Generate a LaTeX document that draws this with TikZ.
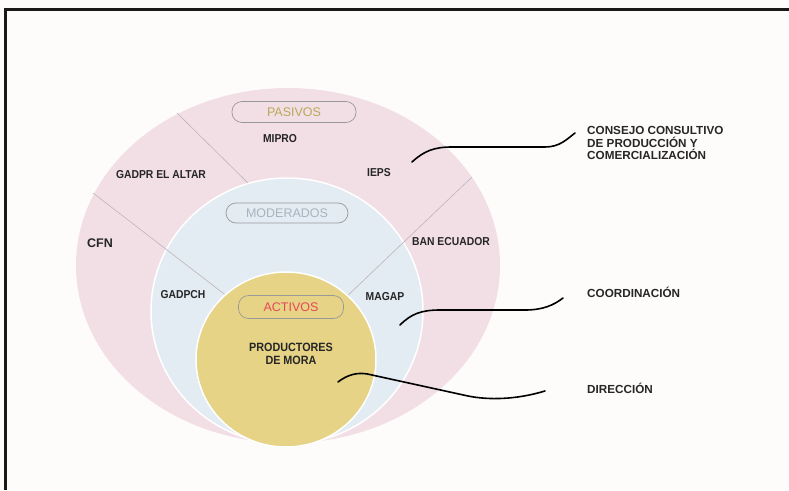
\documentclass[tikz,border=0pt]{standalone}
\usepackage{fontspec}
\setmainfont{Liberation Sans}
\newfontfamily\narrowfont[FakeStretch=0.9]{Liberation Sans}
\usetikzlibrary{positioning}
\definecolor{pasivofill}{RGB}{242,223,230}
\definecolor{moderadofill}{RGB}{227,235,243}
\definecolor{activofill}{RGB}{230,211,133}
\definecolor{pasivotext}{RGB}{185,168,88}
\definecolor{moderadotext}{RGB}{170,178,190}
\definecolor{activotext}{RGB}{232,70,90}
\definecolor{divider}{RGB}{190,180,186}
\definecolor{paper}{RGB}{253,252,251}
\tikzset{
  actor/.style={font=\narrowfont\fontsize{11.5}{12.5}\selectfont\bfseries, inner sep=0pt, text=black!85},
  level/.style={draw=gray!80, line width=0.7pt, rounded corners=10pt, minimum height=21pt, inner sep=0pt, font=\fontsize{12.5}{14}\selectfont},
  role/.style={font=\fontsize{11.7}{12.5}\selectfont\bfseries, align=left, anchor=west, inner sep=0pt, text=black!85},
  leader/.style={line width=1.6pt, line cap=round},
  divide/.style={draw=divider, line width=0.6pt}
}

\begin{document}
\begin{tikzpicture}[x=1pt,y=-1pt,node distance=11pt,on grid]
  \fill[paper] (0,0) rectangle (789,490);
  \useasboundingbox (0,0) rectangle (789,490);
  \draw[line width=3pt, black!90] (5.5,490) -- (5.5,9.5) -- (789,9.5);
  \fill[pasivofill] (288,265.5) ellipse [x radius=212pt, y radius=177.5pt];
  \draw[divide] (177,113) -- (255,190);
  \path[fill=moderadofill, draw=white, line width=1.5pt] (287,311) ellipse [x radius=136pt, y radius=133pt];
  \draw[divide] (93,193) -- (232,300);
  \draw[divide] (472,177) -- (343,300);
  \path[fill=activofill, draw=white, line width=1.5pt] (286,359.5) ellipse [x radius=90pt, y radius=87.5pt];

  \node[level, minimum width=124pt, text=pasivotext] (pasivos) at (294,112) {PASIVOS};
  \node[actor] (mipro) at (280,139) {MIPRO};
  \node[actor] (gadpr) at (161,175) {GADPR EL ALTAR};
  \node[actor] (ieps) at (379,173) {IEPS};
  \node[actor, font=\fontsize{12.5}{14}\selectfont\bfseries] (cfn) at (100,243) {CFN};
  \node[actor] (ban) at (451,242) {BAN ECUADOR};
  \node[level, minimum width=122pt, minimum height=20pt, text=moderadotext] (moderados) at (287,213) {MODERADOS};
  \node[actor] (gadpch) at (183,295) {GADPCH};
  \node[actor] (magap) at (385,297) {MAGAP};
  \node[level, minimum width=105pt, minimum height=23pt, text=activotext] (activos) at (291,307) {ACTIVOS};
  \node[actor, align=center, font=\narrowfont\fontsize{12}{12.5}\selectfont\bfseries, below=47pt of activos] (productores) {PRODUCTORES\\DE MORA};

  \node[role] (consejo) at (587,143) {CONSEJO CONSULTIVO\\DE PRODUCCIÓN Y\\COMERCIALIZACIÓN};
  \node[role, below=149pt of consejo.west, anchor=west] (coordinacion) {COORDINACIÓN};
  \node[role, below=96pt of coordinacion.west, anchor=west] (direccion) {DIRECCIÓN};

  \coordinate (pasivoPt) at (412,162);
  \coordinate (moderadoPt) at (400,325);
  \coordinate (activoPt) at (338,382);
  \coordinate (consejoTip) at (575,133);
  \coordinate (coordinacionTip) at (563,298);
  \coordinate (direccionTip) at (545,391);
  \draw[leader] (pasivoPt) .. controls (424,151) and (434,147) .. (452,147) -- (545,147) .. controls (560,147) and (567,139) .. (consejoTip);
  \draw[leader] (moderadoPt) .. controls (411,314) and (421,310) .. (440,310) -- (525,310) .. controls (543,310) and (554,305) .. (coordinacionTip);
  \draw[leader] (activoPt) .. controls (347,375) and (358,371) .. (372,375) -- (468,396) .. controls (488,400) and (515,400) .. (direccionTip);
\end{tikzpicture}
\end{document}
